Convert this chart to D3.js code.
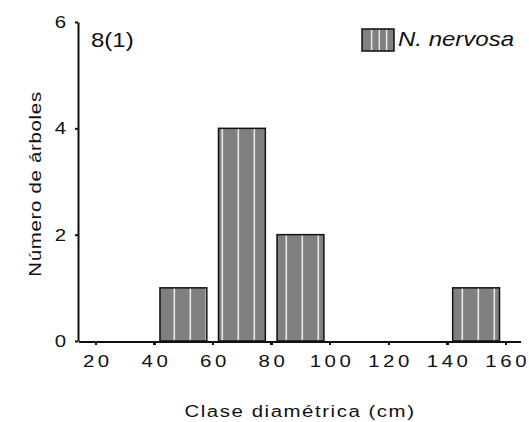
<!DOCTYPE html>
<html>
<head>
<meta charset="utf-8">
<script src="https://cdn.jsdelivr.net/npm/d3@7"></script>
<style>
    body { margin: 0; background: #fff; }
    svg { display: block; font-family: Arial, "Liberation Sans", sans-serif; }
</style>
</head>
<body>
<div id="chart"></div>
<script>
    // diameter classes (lower bound, cm) and number of trees in each
    const classStart = [20, 40, 60, 80, 100, 120, 140];
    const treeCounts = [0, 1, 4, 2, 0, 0, 1];
    const xTicks = [20, 40, 60, 80, 100, 120, 140, 160];
    const yTicks = [0, 2, 4, 6];
    const panelLabel = '8(1)';
    const seriesName = 'N. nervosa';
    const xTitle = 'Clase diamétrica (cm)';
    const yTitle = 'Número de árboles';

    (function () {
        const [width, height] = [529, 422];
        const stretch = 1.2; // the original text is drawn wide
        const ink = '#111';

        let svg = d3.select('#chart')
                    .append('svg')
                    .attr('width', width)
                    .attr('height', height);

        let defs = svg.append('defs');
        let pat = defs.append('pattern')
                      .attr('id', 'stripes')
                      .attr('patternUnits', 'userSpaceOnUse')
                      .attr('x', 0)
                      .attr('y', 0)
                      .attr('width', 16)
                      .attr('height', 16);
        pat.append('rect')
           .attr('width', 16)
           .attr('height', 16)
           .attr('fill', '#808080');
        pat.append('rect')
           .attr('x', 13.5)
           .attr('width', 1.6)
           .attr('height', 16)
           .attr('fill', '#e8e8e8');

        let x = d3.scaleLinear()
                  .domain([14, 165])
                  .range([78, 520]);
        let y = d3.scaleLinear()
                  .domain([0, 6])
                  .range([341, 22]);

        let data = classStart.map((c, i) => ({ start: c, value: treeCounts[i] }))
                             .filter(d => d.value > 0);

        // bars
        svg.append('g')
           .selectAll('rect')
           .data(data)
           .enter()
           .append('rect')
           .attr('x', d => x(d.start + 2))
           .attr('y', d => y(d.value))
           .attr('width', d => x(d.start + 18) - x(d.start + 2))
           .attr('height', d => y(0) - y(d.value))
           .attr('fill', 'url(#stripes)')
           .attr('stroke', ink)
           .attr('stroke-width', 1.5);

        // x axis
        let gx = svg.append('g')
                    .attr('transform', `translate(0, ${y(0)})`)
                    .call(d3.axisBottom(x)
                            .tickValues(xTicks)
                            .tickFormat(d3.format('d'))
                            .tickSize(4)
                            .tickSizeOuter(0)
                            .tickPadding(10));
        gx.select('.domain')
          .attr('stroke', ink)
          .attr('stroke-width', 2);
        gx.selectAll('.tick line')
          .attr('stroke', ink)
          .attr('stroke-width', 2.5);
        gx.selectAll('.tick text')
          .attr('font-size', 17)
          .attr('fill', ink)
          .attr('letter-spacing', 3)
          .attr('dx', 1.5)
          .attr('transform', `scale(${stretch}, 1)`);

        // y axis
        let gy = svg.append('g')
                    .attr('transform', `translate(${x(14)}, 0)`)
                    .call(d3.axisLeft(y)
                            .tickValues(yTicks)
                            .tickFormat(d3.format('d'))
                            .tickSize(3)
                            .tickSizeOuter(0)
                            .tickPadding(7));
        gy.select('.domain')
          .attr('stroke', ink)
          .attr('stroke-width', 2);
        gy.selectAll('.tick line')
          .attr('stroke', ink)
          .attr('stroke-width', 2);
        gy.selectAll('.tick text')
          .attr('font-size', 17)
          .attr('fill', ink)
          .attr('transform', `scale(${stretch}, 1)`);
        gx.selectAll('.domain, .tick line').attr('shape-rendering', 'crispEdges');

        // axis titles
        svg.append('text')
           .attr('transform', `translate(300, 417) scale(${stretch}, 1)`)
           .attr('text-anchor', 'middle')
           .attr('font-size', 17)
           .attr('letter-spacing', 1.3)
           .attr('fill', ink)
           .text(xTitle);

        svg.append('text')
           .attr('transform', `translate(41, 184) rotate(-90) scale(${stretch}, 1)`)
           .attr('text-anchor', 'middle')
           .attr('font-size', 17)
           .attr('letter-spacing', 0.6)
           .attr('fill', ink)
           .text(yTitle);

        // panel label
        svg.append('text')
           .attr('transform', `translate(91, 47) scale(${stretch}, 1)`)
           .attr('font-size', 20)
           .attr('fill', ink)
           .text(panelLabel);

        // legend
        let lg = svg.append('g')
                    .attr('transform', 'translate(362, 29)');
        lg.append('rect')
          .attr('width', 32)
          .attr('height', 22)
          .attr('fill', '#808080')
          .attr('stroke', ink)
          .attr('stroke-width', 1.5);
        lg.selectAll('line')
          .data([0.3, 0.54, 0.77])
          .enter()
          .append('line')
          .attr('x1', d => d * 32)
          .attr('x2', d => d * 32)
          .attr('y1', 1)
          .attr('y2', 21)
          .attr('stroke', '#e8e8e8')
          .attr('stroke-width', 1.5);
        lg.append('text')
          .attr('transform', `translate(36, 17) scale(${stretch}, 1)`)
          .attr('font-size', 20)
          .attr('font-style', 'italic')
          .attr('fill', ink)
          .text(seriesName);
    })();
</script>
</body>
</html>
